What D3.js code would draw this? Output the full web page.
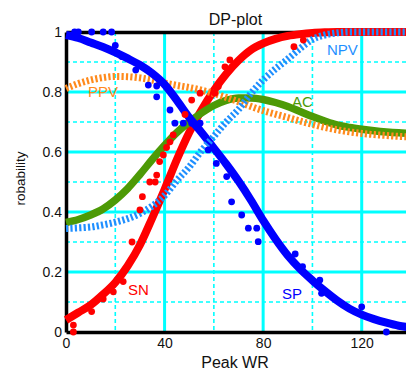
<!DOCTYPE html>
<html><head><meta charset="utf-8">
<script src="https://cdn.jsdelivr.net/npm/d3@7"></script>
<style>
html,body{margin:0;padding:0;background:#fff;}
svg{display:block;font-family:"Liberation Sans",Arial,sans-serif;}
</style></head>
<body><svg id="c" width="406" height="372"></svg>
<script>
// ---- data ----
const curveX = [0,5,10,15,20,25,30,35,40,45,50,55,60,65,70,75,80,85,90,95,100,105,110,115,120,125,130,135,140];
const SN  = [0.04,0.065,0.09,0.125,0.165,0.22,0.29,0.38,0.475,0.575,0.665,0.74,0.805,0.86,0.905,0.94,0.962,0.977,0.987,0.993,0.997,0.999,1,1,1,1,1,1,1];
const SP  = [0.99,0.98,0.965,0.95,0.932,0.912,0.89,0.862,0.825,0.772,0.715,0.665,0.613,0.56,0.503,0.44,0.372,0.31,0.255,0.21,0.172,0.137,0.105,0.078,0.058,0.043,0.031,0.021,0.015];
const AC  = [0.365,0.375,0.39,0.41,0.44,0.478,0.525,0.575,0.622,0.665,0.70,0.73,0.755,0.772,0.78,0.78,0.775,0.765,0.752,0.735,0.718,0.703,0.69,0.682,0.676,0.671,0.667,0.664,0.662];
const PPV = [0.812,0.828,0.84,0.848,0.852,0.851,0.847,0.84,0.83,0.822,0.815,0.806,0.795,0.782,0.768,0.752,0.738,0.726,0.715,0.703,0.692,0.682,0.674,0.667,0.662,0.658,0.655,0.652,0.65];
const NPV = [0.345,0.347,0.35,0.357,0.366,0.378,0.395,0.42,0.455,0.505,0.55,0.605,0.652,0.70,0.742,0.795,0.84,0.877,0.91,0.945,0.975,0.99,0.997,1,1,1,1,1,1];

const spDotX = [3.5,5,10.4,15.1,18.5,20,22.6,28.3,33.4,36.8,36.8,42.2,44.2,47.6,51,54.4,57.7,61,65.2,67.2,71.3,74,77.4,78,93,96,103,103.7,120,130];
const spDotY = [1,1,1,1,1,0.955,0.918,0.873,0.823,0.82,0.784,0.74,0.696,0.696,0.696,0.696,0.607,0.562,0.518,0.434,0.39,0.346,0.346,0.301,0.26,0.218,0.173,0.129,0.084,0.0];
const snDotX = [3,3,10.4,15.1,19.2,23.2,24,26.8,30,31,34,36.2,36.8,38,39.5,40.8,42.2,43.5,48.3,51,54.4,60.4,61.8,64.5,66.5,92.5,96.3];
const snDotY = [0,0.023,0.068,0.11,0.134,0.168,0.207,0.30,0.407,0.451,0.5,0.5,0.523,0.568,0.59,0.615,0.634,0.657,0.725,0.773,0.796,0.796,0.818,0.884,0.907,0.951,0.973];

const xTicks = [0,40,80,120];
const xTickLabels = ["0","40","80","120"];
const yTicks = [0,0.2,0.4,0.6,0.8,1];
const yTickLabels = ["0","0.2","0.4","0.6","0.8","1"];
const xMajorGrid = [40,80,120], xMinorGrid = [20,60,100];
const yMajorGrid = [0.2,0.4,0.6,0.8], yMinorGrid = [0.1,0.3,0.5,0.7,0.9];

const title = "DP-plot", xTitle = "Peak WR", yTitle = "robability";
const labels = [
  {t:"PPV", col:"#ff8a1c"},
  {t:"NPV", col:"#1f8fff"},
  {t:"AC",  col:"#4d9a06"},
  {t:"SN",  col:"#ff0000"},
  {t:"SP",  col:"#0000ff"}
];

// ---- drawing ----
const svg = d3.select("#c");
const x = d3.scaleLinear().domain([0,140]).range([66,411]);
const y = d3.scaleLinear().domain([0,1]).range([332,32]);
const X0 = 66, X1 = 406, Y0 = 332, Y1 = 32;

const grid = svg.append("g");
grid.selectAll(".vmin").data(xMinorGrid).join("line")
  .attr("x1",d=>x(d)).attr("x2",d=>x(d)).attr("y1",Y1).attr("y2",Y0)
  .attr("stroke","#00ffff").attr("stroke-width",1.6).attr("stroke-dasharray","4,3");
grid.selectAll(".hmin").data(yMinorGrid).join("line")
  .attr("x1",X0).attr("x2",X1).attr("y1",d=>y(d)).attr("y2",d=>y(d))
  .attr("stroke","#00ffff").attr("stroke-width",1.6).attr("stroke-dasharray","4,3");
grid.selectAll(".vmaj").data(xMajorGrid).join("line")
  .attr("x1",d=>x(d)).attr("x2",d=>x(d)).attr("y1",Y1).attr("y2",Y0)
  .attr("stroke","#00ffff").attr("stroke-width",3);
grid.selectAll(".hmaj").data(yMajorGrid).join("line")
  .attr("x1",X0).attr("x2",X1).attr("y1",d=>y(d)).attr("y2",d=>y(d))
  .attr("stroke","#00ffff").attr("stroke-width",3);

// axes
const ax = svg.append("g").attr("transform",`translate(0,${Y0})`)
  .call(d3.axisBottom(x).tickValues(xTicks).tickFormat((d,i)=>xTickLabels[i]).tickSize(0).tickPadding(6));
const ay = svg.append("g").attr("transform",`translate(${X0},0)`)
  .call(d3.axisLeft(y).tickValues(yTicks).tickFormat((d,i)=>yTickLabels[i]).tickSize(0).tickPadding(4));
const at = svg.append("g").attr("transform",`translate(0,${Y1})`)
  .call(d3.axisTop(x).tickValues([]).tickSize(0));
[ax,ay,at].forEach(g=>{
  g.select(".domain").attr("stroke","#000").attr("stroke-width",3.5);
  g.selectAll("text").attr("font-size",14).attr("fill","#111").attr("font-family","Liberation Sans, Arial, sans-serif");
});

// curves
const line = d3.line().x((d,i)=>x(curveX[i])).y(d=>y(d)).curve(d3.curveMonotoneX);
function drawCurve(vals,col,w,dash){
  const p = svg.append("path").datum(vals).attr("d",line)
    .attr("fill","none").attr("stroke",col).attr("stroke-width",w).attr("stroke-linecap","butt");
  if(dash) p.attr("stroke-dasharray",dash);
}
drawCurve(SN,"#ff0000",8);
drawCurve(AC,"#4d9a06",7.5);
drawCurve(PPV,"#ff8a1c",7,"2.2,2.2");
drawCurve(SP,"#0000ff",8);
drawCurve(NPV,"#1f8fff",7,"2.2,2.2");

svg.append("g").selectAll("circle").data(snDotX).join("circle")
  .attr("cx",d=>x(d)).attr("cy",(d,i)=>y(snDotY[i])).attr("r",3.4).attr("fill","#ff0000");
svg.append("g").selectAll("circle").data(spDotX).join("circle")
  .attr("cx",d=>x(d)).attr("cy",(d,i)=>y(spDotY[i])).attr("r",3.4).attr("fill","#0000ff");

// curve labels
const labPos = {PPV:[88,97],NPV:[327,55],AC:[292,106.5],SN:[128,295],SP:[282,299]};
svg.append("g").selectAll("text").data(labels).join("text")
  .attr("x",d=>labPos[d.t][0]).attr("y",d=>labPos[d.t][1])
  .attr("font-size",15).attr("fill",d=>d.col).text(d=>d.t);

// titles
svg.append("text").attr("x",235.5).attr("y",25).attr("text-anchor","middle")
  .attr("font-size",16).attr("fill","#111").text(title);
svg.append("text").attr("x",235).attr("y",368).attr("text-anchor","middle")
  .attr("font-size",16).attr("fill","#111").text(xTitle);
svg.append("text").attr("transform","translate(25,178.5) rotate(-90)").attr("text-anchor","middle")
  .attr("font-size",13.5).attr("fill","#111").text(yTitle);
</script></body></html>
